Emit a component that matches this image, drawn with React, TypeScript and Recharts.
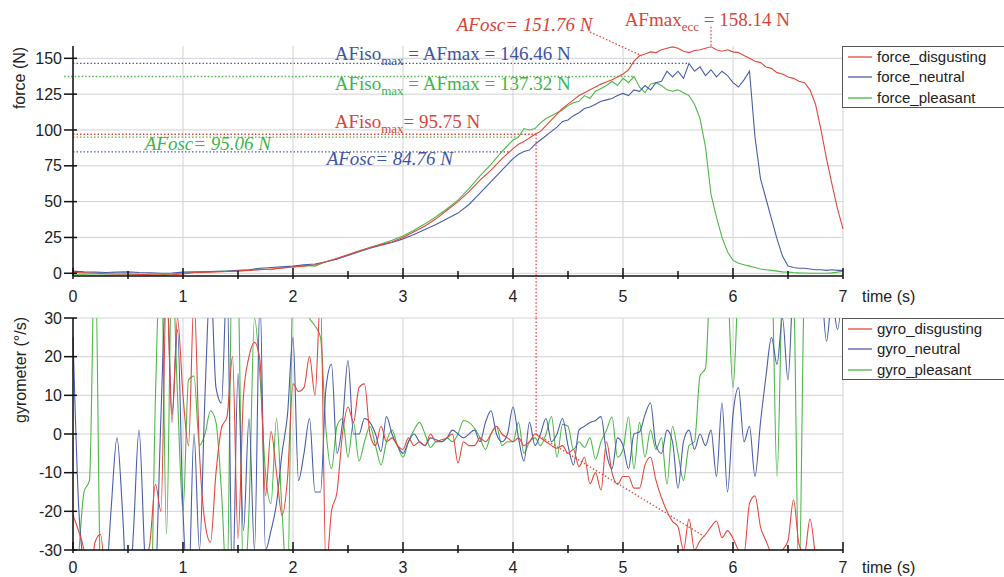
import React from 'react';
import { LineChart, Line, XAxis, YAxis, CartesianGrid, ReferenceLine, ReferenceDot, Legend } from 'recharts';

const RED = '#e2483c';
const BLUE = '#4a5ea8';
const GREEN = '#4db848';
const RED_T = '#d6453a';
const BLUE_T = '#3f54a0';
const GREEN_T = '#3cb54b';

// ---------- force (top) ----------
const forceTime = [0,0.1,0.2,0.3,0.4,0.5,0.6,0.7,0.8,0.9,1,1.1,1.2,1.3,1.4,1.5,1.6,1.7,1.8,1.9,2,2.1,2.2,2.3,2.4,2.5,2.6,2.7,2.8,2.9,3,3.1,3.2,3.3,3.4,3.5,3.6,3.7,3.8,3.9,4,
  4.05,4.1,4.15,4.2,4.25,4.3,4.35,4.4,4.45,4.5,4.55,4.6,4.65,4.7,4.75,4.8,4.85,4.9,4.95,5,5.05,5.1,5.15,5.2,5.25,5.3,5.35,5.4,5.45,5.5,5.55,5.6,5.65,5.7,5.75,5.8,5.85,5.9,5.95,6,6.05,6.1,6.15,6.2,6.25,6.3,6.35,6.4,6.45,6.5,6.55,6.6,6.65,6.7,6.75,6.8,6.85,6.9,6.95,7];

const forceDisgusting = [0.5,0.3,0,-0.3,-0.5,-0.5,-0.8,-1,-1.2,-1,-0.5,0.5,0.8,1,1.2,1.5,2,2.5,3,3.5,4.5,5,6,8,10.5,13,15.5,18,20,22,25,29,33,38,44,50,57,65,72,80,87,
  90,92,94.5,97,99,103,107,111,115,118,
  121,124,126,128,130,132,133.5,135,137,139,
  142,148,151.8,153,154.5,154,156,157,158,157,
  155,154,155.5,156,157,158.1,156,155,156,154.5,
  154,152,150,148,147,144,143,140,139,137,
  136,134,133,128,118,100,80,62,45,31];

const forceNeutral = [1.5,1,0.8,0.5,0.8,1,0.5,0.3,0,0.2,0.8,1,1,1.3,1.5,2,2.5,3.5,4,4.5,5,6,6.5,8,10,12.5,15,17.5,19.5,21.5,24,27,30.5,34,38,42,48,56,64,72,80,
  83,85,86,90,93,96,99,102,106,107,
  110,112,115,116,118,120,121,122,124,125.5,
  124,128,127,131,128,133,134,141,137,141,
  136,146.5,141,144,138,142,137,141,138,133,
  130,135,141,95,66,52,38,24,12,5,
  4,3.5,3.5,3,2.5,2.5,2,2.5,2,2];

const forcePleasant = [-1,-1,-1.2,-1.3,-1.2,-1,-1,-1.2,-1,-0.5,0,0.5,1,1.2,1.5,1.8,2.2,3,2.5,4,4.5,5.5,5,8,10,13,15.5,18,20.5,23,26,30,34.5,39.5,45,51,59,68,76,85,93,
  95,101,100,101,105,108,110,112,114,117,
  119,120,124,122,127,129,131,134,131,136,
  133,137.3,130,126,132,133,131,128,127,128,
  126,124,118,108,88,55,39,25,15,9,
  7,6,5,4,3,2.5,2,1.5,1,0.8,
  0.5,0.3,0.2,0,0,0,0,0.3,0.8,1.5];

// ---------- gyrometer (bottom) ----------
const gyroTime = [0,0.05,0.1,0.15,0.2,0.25,0.3,0.35,0.4,0.45,0.5,0.55,0.6,0.65,0.7,0.75,0.8,0.85,0.9,0.95,
  1,1.05,1.1,1.15,1.2,1.25,1.3,1.35,1.4,1.45,1.5,1.55,1.6,1.65,1.7,1.75,1.8,1.85,1.9,1.95,
  2,2.05,2.1,2.15,2.2,2.25,2.3,2.35,2.4,2.45,2.5,2.55,2.6,2.65,2.7,2.75,2.8,2.85,2.9,2.95,
  3,3.05,3.1,3.15,3.2,3.25,3.3,3.35,3.4,3.45,3.5,3.55,3.6,3.65,3.7,3.75,3.8,3.85,3.9,3.95,
  4,4.05,4.1,4.15,4.2,4.25,4.3,4.35,4.4,4.45,4.5,4.55,4.6,4.65,4.7,4.75,4.8,4.85,4.9,4.95,
  5,5.05,5.1,5.15,5.2,5.25,5.3,5.35,5.4,5.45,5.5,5.55,5.6,5.65,5.7,5.75,5.8,5.85,5.9,5.95,
  6,6.05,6.1,6.15,6.2,6.25,6.3,6.35,6.4,6.45,6.5,6.55,6.6,6.65,6.7,6.75,6.8,6.85,6.9,6.95,7];

const gyroDisgusting = [
  -21,-25,-30,-40,-28,-26,-40,-55,-60,-60,
  -60,-60,-50,-35,-28,-13,-20,40,3,30,
  10,-3,35,-5,-23,-28,-10,1.5,4.5,20,
  -27,10,20,23.7,19,-16,0.7,-10,-21,-11.5,
  13,11,12,20,10,35,-35,-20,-15,0,
  7,3,12,13,0,-3,2,-2,-1,-3,
  -4,-1,-3,-2,-3,0,-2,-1.5,-1,0,
  -7.5,-2,-3,-3,-1,-2,0,2,0,-1,
  -2,-1,-3,-2,0,-1,-2,-3,-3.7,-3,
  -5,-4,-8.5,-6,-12.9,-10,-14.5,-2,-10,-13,
  -11,-11,-14,-14,-8,-6,-12,-16.5,-20,-22.6,
  -24,-30,-22,-30,-27.6,-26,-24,-22.5,-26.8,-25,
  -27,-30,-31,-18,-16,-24,-27.6,-31,-32,-30,
  -27.6,-17,-28.5,-31,-22,-32,-45,-55,-60,-60,
  -60];

const gyroNeutral = [
  25,-18,-36,-55,-60,-55,-40,-18,-1,-20,
  -45,-25,1,-30,-55,-40,5,40,5,27,
  -20,-40,0,-30,10,40,12,8,40,-40,
  15.7,-25,4,-30,35,-30,-25,-18,-5,5,
  25,-12,-5,4,-15,-15,12,18,-5,3,
  19,0,0,4,3,0,-4.5,4.5,0,-3,
  -5,-2,0,-2,-3,-1,-1.5,-2,-1,1,
  0,-1,0,1,-2,3,6,0,-2,0,
  7,-1,-7,3,-3,0,4,-2,0,4,
  -3,-8,1,2,3,3.5,4.5,-5,-9,-1,
  -3,-9,0,0.5,5,8,-3,-5,1,-2,
  -14,-2,1,-4,0,-3,1,-11,8,-15,
  5,12,-2,2,-11,3,15,25,18,30,
  14,40,45,50,50,45,40,24,35,27,
  40];

const gyroPleasant = [
  -50,-32,-15,-12,50,-40,-60,-60,-60,-60,
  -60,-60,-60,-60,-55,10,50,-26,45,10,
  -20,14,15,-3,0,6,3,-15,-40,50,
  40,-40,-20,30,15,-10,-18,4,-20,-40,
  40,45,35,30,28,25,1,-9,2,4,
  -6,3,-7,-2,2,-3,-8,-2,1,-3,
  -6,-2,1,3,0,-3.5,-2,-2,-1,-2,
  0,3.5,3,1.5,-1,-4,0,2,-3,-2,
  -2,3,-5,-2,-1,-3,0,4.5,-6,2.5,
  2,-4,-2,-3.5,-1,-6.5,-2,1,4.4,-6,
  -4,4.4,-9,3,-6,1,-4,-1,-13,2,
  -5,-12,-3,-2,15,17,45,50,50,40,
  12,40,50,50,50,50,50,45,-11,40,
  50,40,-40,40,50,50,50,50,50,50,
  50];

// ---------- axes ----------
const timeTicks = [0,0.5,1,1.5,2,2.5,3,3.5,4,4.5,5,5.5,6,6.5,7];
const timeGrid = [0,1,2,3,4,5,6,7];
const forceTicks = [0,12.5,25,37.5,50,62.5,75,87.5,100,112.5,125,137.5,150];
const forceGrid = [0,25,50,75,100,125,150];
const gyroTicks = [-30,-25,-20,-15,-10,-5,0,5,10,15,20,25,30];
const gyroGrid = [-30,-20,-10,0,10,20,30];
const forceDomain = [-1.9, 158.6];
const gyroDomain = [-30, 30];

// ---------- annotation values (as drawn in the picture) ----------
const afIsoNeutral = 146.46;
const afIsoPleasant = 137.32;
const afIsoDisgustingDrawn = 97.0;
const afOscPleasant = 95.06;
const afOscNeutral = 84.76;
const afOscDisgusting = 151.76;
const afMaxEcc = 158.14;
const oscTime = 4.21;

const forceData = forceTime.map((t, i) => ({ t, disgusting: forceDisgusting[i], neutral: forceNeutral[i], pleasant: forcePleasant[i] }));
const gyroData = gyroTime.map((t, i) => ({ t, disgusting: gyroDisgusting[i], neutral: gyroNeutral[i], pleasant: gyroPleasant[i] }));

const forceLegend = [
  { name: 'force_disgusting', color: RED },
  { name: 'force_neutral', color: BLUE },
  { name: 'force_pleasant', color: GREEN },
];
const gyroLegend = [
  { name: 'gyro_disgusting', color: RED },
  { name: 'gyro_neutral', color: BLUE },
  { name: 'gyro_pleasant', color: GREEN },
];

const SANS = '"Liberation Sans", Arial, sans-serif';
const SERIF = '"Liberation Serif", "Times New Roman", serif';

const XTick = (props: any) => {
  const { x, y, payload, gap } = props;
  const v = payload.value;
  const major = Math.abs(v - Math.round(v)) < 1e-6;
  const ay = y - gap;
  return (
    <g>
      <line x1={x} x2={x} y1={ay - (major ? 8 : 5)} y2={ay + 3} stroke="#111" strokeWidth={1.5} />
      {major && (
        <text x={x} y={y} dy="0.71em" textAnchor="middle" fontSize={16} fill="#222" fontFamily={SANS}>{v}</text>
      )}
    </g>
  );
};

const YTick = (props: any) => {
  const { x, y, payload, step } = props;
  const v = payload.value;
  const major = Math.abs(v / step - Math.round(v / step)) < 1e-6;
  const ax = x + 11;
  return (
    <g>
      <line x1={ax - (major ? 9 : 6)} x2={ax + 4} y1={y} y2={y} stroke="#111" strokeWidth={1.5} />
      {major && (
        <text x={x} y={y} dy="0.355em" textAnchor="end" fontSize={16} fill="#222" fontFamily={SANS}>{v}</text>
      )}
    </g>
  );
};

type Part = [string, boolean?];
const annShape = (parts: Part[], color: string, italic?: boolean) => (p: any) => (
  <text x={p.cx} y={p.cy} fill={color} fontFamily={SERIF} fontSize={19} fontStyle={italic ? 'italic' : 'normal'} style={{ whiteSpace: 'pre' }}>
    {parts.map(([s, sub], i) => {
      const prevSub = i > 0 && parts[i - 1][1];
      const dy = sub ? 5 : prevSub ? -5 : 0;
      return (
        <tspan key={i} dy={dy} fontSize={sub ? 13 : 19}>{s}</tspan>
      );
    })}
  </text>
);

const LegendBox = ({ items }: { items: { name: string; color: string }[] }) => (
  <div style={{ border: '1.5px solid #555', borderRight: 'none', background: '#fff', width: 170, height: 62, boxSizing: 'border-box', fontFamily: SANS, fontSize: 15, color: '#222' }}>
    {items.map((it) => (
      <div key={it.name} style={{ display: 'flex', alignItems: 'center', height: 20.3 }}>
        <svg width={34} height={6} style={{ display: 'block' }}>
          <line x1={5} x2={29} y1={3} y2={3} stroke={it.color} strokeWidth={1.3} />
        </svg>
        <span style={{ lineHeight: '20px' }}>{it.name}</span>
      </div>
    ))}
  </div>
);

const dotted = { strokeDasharray: '1.5 2', strokeWidth: 1.3 };

export default function App() {
  return (
    <div style={{ position: 'absolute', left: 0, top: 0, width: 1004, height: 577, background: '#fff', fontFamily: SANS }}>
      {/* ---------------- force chart ---------------- */}
      <div style={{ position: 'absolute', left: 0, top: 0 }}>
        <LineChart width={1004} height={320} data={forceData} margin={{ top: 46, right: 161, bottom: 14, left: 13 }}>
          <CartesianGrid stroke="#d2d2d2" strokeWidth={1} horizontalValues={forceGrid} verticalValues={timeGrid} />
          <XAxis dataKey="t" type="number" domain={[0, 7]} ticks={timeTicks} height={30} tickSize={6} tickMargin={9}
            axisLine={{ stroke: '#111', strokeWidth: 1.5 }} tickLine={false}
            tick={(p: any) => <XTick {...p} gap={15} />}
            label={(p: any) => {
              const vb = p.viewBox;
              return <text x={vb.x + vb.width + 19} y={vb.y + 15} dy="0.71em" fontSize={16} fill="#222" fontFamily={SANS}>time (s)</text>;
            }} />
          <XAxis xAxisId="top" orientation="top" type="number" domain={[0, 7]} height={0} tick={false} tickLine={false}
            axisLine={{ stroke: '#444', strokeWidth: 2 }} />
          <YAxis type="number" domain={forceDomain} ticks={forceTicks} width={60} tickSize={8} tickMargin={3} allowDataOverflow
            axisLine={{ stroke: '#111', strokeWidth: 1.5 }} tickLine={false}
            tick={(p: any) => <YTick {...p} step={25} />}
            label={(p: any) => {
              const vb = p.viewBox;
              const cx = vb.x + 6, cy = vb.y + 32;
              return <text x={cx} y={cy} transform={`rotate(-90 ${cx} ${cy})`} textAnchor="middle" dominantBaseline="central" fontSize={16} fill="#222" fontFamily={SANS}>force (N)</text>;
            }} />
          <YAxis yAxisId="r" orientation="right" type="number" domain={forceDomain} width={0} tick={false} tickLine={false}
            axisLine={{ stroke: '#777', strokeWidth: 1.5 }} />

          <ReferenceLine segment={[{ x: 0, y: afIsoNeutral }, { x: 5.6, y: afIsoNeutral }]} stroke={BLUE} {...dotted} ifOverflow="visible" />
          <ReferenceLine segment={[{ x: -0.08, y: afIsoPleasant }, { x: 5.1, y: afIsoPleasant }]} stroke={GREEN} {...dotted} ifOverflow="visible" />
          <ReferenceLine segment={[{ x: 0, y: afIsoDisgustingDrawn }, { x: oscTime, y: afIsoDisgustingDrawn }]} stroke={RED} {...dotted} ifOverflow="visible" />
          <ReferenceLine segment={[{ x: 0, y: afOscPleasant }, { x: 4.06, y: afOscPleasant }]} stroke={GREEN} {...dotted} ifOverflow="visible" />
          <ReferenceLine segment={[{ x: 0, y: afOscNeutral }, { x: 3.97, y: afOscNeutral }]} stroke={BLUE} {...dotted} ifOverflow="visible" />
          <ReferenceLine segment={[{ x: oscTime, y: afIsoDisgustingDrawn }, { x: oscTime, y: -31 }]} stroke={RED} {...dotted} ifOverflow="visible" />
          <ReferenceLine segment={[{ x: 4.7, y: 168.4 }, { x: 5.17, y: afOscDisgusting }]} stroke={RED} {...dotted} ifOverflow="visible" />
          <ReferenceLine segment={[{ x: 5.8, y: 172 }, { x: 5.8, y: afMaxEcc }]} stroke={RED} {...dotted} ifOverflow="visible" />

          <Line dataKey="pleasant" stroke={GREEN} strokeWidth={1.1} dot={false} isAnimationActive={false} type="linear" />
          <Line dataKey="neutral" stroke={BLUE} strokeWidth={1.1} dot={false} isAnimationActive={false} type="linear" />
          <Line dataKey="disgusting" stroke={RED} strokeWidth={1.1} dot={false} isAnimationActive={false} type="linear" />

          <ReferenceDot x={3.488} y={169.0} r={0} ifOverflow="visible" shape={annShape([['AFosc= 151.76 N']], RED_T, true)} />
          <ReferenceDot x={5.015} y={172.5} r={0} ifOverflow="visible" shape={annShape([['AFmax'], ['ecc', true], [' = 158.14 N']], RED_T)} />
          <ReferenceDot x={2.379} y={148.8} r={0} ifOverflow="visible" shape={annShape([['AFiso'], ['max', true], [' = AFmax = 146.46 N']], BLUE_T)} />
          <ReferenceDot x={2.379} y={127.9} r={0} ifOverflow="visible" shape={annShape([['AFiso'], ['max', true], [' = AFmax = 137.32 N']], GREEN_T)} />
          <ReferenceDot x={2.379} y={101.4} r={0} ifOverflow="visible" shape={annShape([['AFiso'], ['max', true], ['= 95.75 N']], RED_T)} />
          <ReferenceDot x={2.306} y={75.6} r={0} ifOverflow="visible" shape={annShape([['AFosc= 84.76 N']], BLUE_T, true)} />
          <ReferenceDot x={0.652} y={86.0} r={0} ifOverflow="visible" shape={annShape([['AFosc= 95.06 N']], GREEN_T, true)} />

          <Legend layout="horizontal" align="center" verticalAlign="middle"
            wrapperStyle={{ left: 842, top: 46, right: 'auto', bottom: 'auto', width: 170, height: 62 }}
            content={() => <LegendBox items={forceLegend} />} />
        </LineChart>
      </div>

      {/* ---------------- gyrometer chart ---------------- */}
      <div style={{ position: 'absolute', left: 0, top: 300 }}>
        <LineChart width={1004} height={277} data={gyroData} margin={{ top: 18, right: 161, bottom: 0, left: 13 }}>
          <CartesianGrid stroke="#d2d2d2" strokeWidth={1} horizontalValues={gyroGrid} verticalValues={timeGrid} />
          <XAxis dataKey="t" type="number" domain={[0, 7]} ticks={timeTicks} height={27} tickSize={6} tickMargin={6}
            axisLine={{ stroke: '#111', strokeWidth: 1.5 }} tickLine={false}
            tick={(p: any) => <XTick {...p} gap={12} />}
            label={(p: any) => {
              const vb = p.viewBox;
              return <text x={vb.x + vb.width + 19} y={vb.y + 12} dy="0.71em" fontSize={16} fill="#222" fontFamily={SANS}>time (s)</text>;
            }} />
          <XAxis xAxisId="top" orientation="top" type="number" domain={[0, 7]} height={0} tick={false} tickLine={false}
            axisLine={{ stroke: '#444', strokeWidth: 2 }} />
          <YAxis type="number" domain={gyroDomain} ticks={gyroTicks} width={60} tickSize={8} tickMargin={3} allowDataOverflow
            axisLine={{ stroke: '#111', strokeWidth: 1.5 }} tickLine={false}
            tick={(p: any) => <YTick {...p} step={10} />}
            label={(p: any) => {
              const vb = p.viewBox;
              const cx = vb.x + 7, cy = vb.y + 52;
              return <text x={cx} y={cy} transform={`rotate(-90 ${cx} ${cy})`} textAnchor="middle" dominantBaseline="central" fontSize={16} fill="#222" fontFamily={SANS}>gyrometer (°/s)</text>;
            }} />
          <YAxis yAxisId="r" orientation="right" type="number" domain={gyroDomain} width={0} tick={false} tickLine={false}
            axisLine={{ stroke: '#777', strokeWidth: 1.5 }} />

          <Line dataKey="pleasant" stroke={GREEN} strokeWidth={1.1} dot={false} isAnimationActive={false} type="monotone" />
          <Line dataKey="neutral" stroke={BLUE} strokeWidth={1.1} dot={false} isAnimationActive={false} type="monotone" />
          <Line dataKey="disgusting" stroke={RED} strokeWidth={1.1} dot={false} isAnimationActive={false} type="monotone" />

          <ReferenceLine segment={[{ x: oscTime, y: 30 }, { x: oscTime, y: 0 }]} stroke={RED} {...dotted} ifOverflow="visible" />
          <ReferenceLine segment={[{ x: oscTime, y: 0 }, { x: 5.74, y: -26.5 }]} stroke={RED} {...dotted} ifOverflow="visible" />

          <Legend layout="horizontal" align="center" verticalAlign="middle"
            wrapperStyle={{ left: 842, top: 18, right: 'auto', bottom: 'auto', width: 170, height: 62 }}
            content={() => <LegendBox items={gyroLegend} />} />
        </LineChart>
      </div>
    </div>
  );
}
